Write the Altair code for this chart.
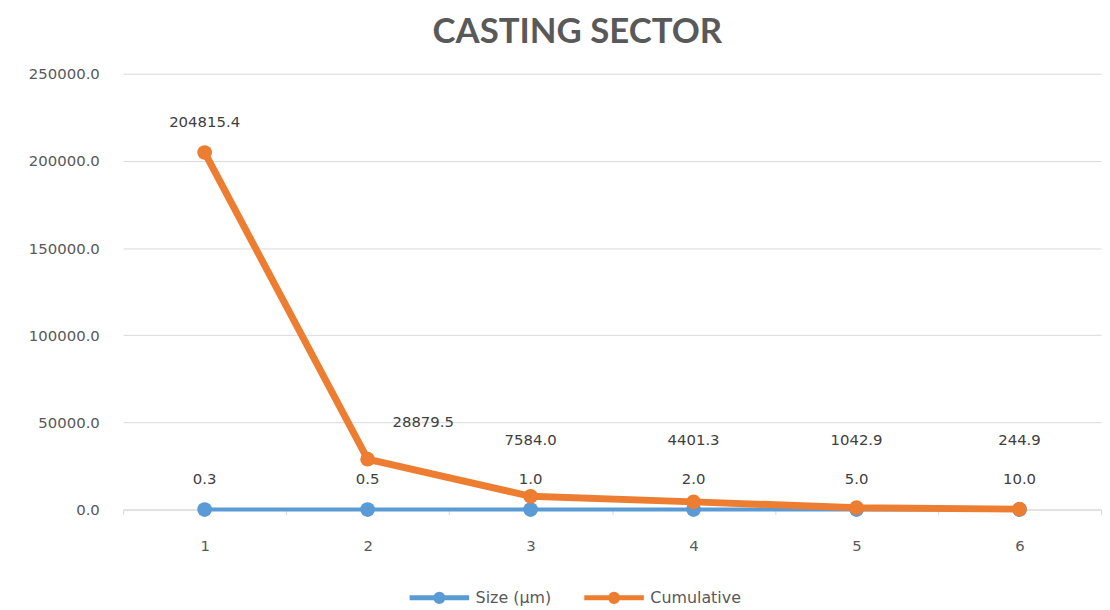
import altair as alt
import pandas as pd

categories = [1, 2, 3, 4, 5, 6]
size_um = [0.3, 0.5, 1.0, 2.0, 5.0, 10.0]
cumulative = [204815.4, 28879.5, 7584.0, 4401.3, 1042.9, 244.9]
series_names = ["Size (µm)", "Cumulative"]
colors = ["#5B9BD5", "#ED7D31"]
y_ticks = [0, 50000, 100000, 150000, 200000, 250000]

rows = []
for c, v in zip(categories, size_um):
    rows.append({"x": str(c), "series": series_names[0], "value": v})
for c, v in zip(categories, cumulative):
    rows.append({"x": str(c), "series": series_names[1], "value": v})
df = pd.DataFrame(rows)

FONT = "DejaVu Sans"
LEGEND_SYMBOL = ("M-2.5,0 L2.5,0 M-0.3,0 A0.3,0.3 0 1,0 0.3,0 "
                 "A0.3,0.3 0 1,0 -0.3,0 Z")

x_enc = alt.X("x:O", sort=[str(c) for c in categories],
              scale=alt.Scale(paddingInner=0, paddingOuter=0),
              axis=alt.Axis(title=None, labelAngle=0, grid=False, tickBand="extent",
                            domainColor="#D9D9D9", tickColor="#D9D9D9", tickSize=5,
                            labelColor="#595959", labelFontSize=15, labelPadding=24,
                            labelFont=FONT))
y_enc = alt.Y("value:Q", scale=alt.Scale(domain=[0, 250000], nice=False),
              axis=alt.Axis(title=None, values=y_ticks, format=".1f", domain=False,
                            ticks=False, gridColor="#D9D9D9", labelColor="#595959",
                            labelFontSize=15, labelPadding=24, labelFont=FONT,
                            minExtent=116, maxExtent=116))
color_enc = alt.Color("series:N", scale=alt.Scale(domain=series_names, range=colors),
                      legend=alt.Legend(title=None, orient="none", direction="horizontal",
                                        legendX=304, legendY=513, symbolType=LEGEND_SYMBOL,
                                        symbolStrokeWidth=5, symbolSize=576,
                                        labelFontSize=16, labelColor="#595959",
                                        labelFont=FONT, columnPadding=22, labelOffset=22))

base = alt.Chart(df).encode(x=x_enc, y=y_enc, color=color_enc)

blue = base.transform_filter(alt.datum.series == series_names[0])
orange = base.transform_filter(alt.datum.series == series_names[1])

blue_line = blue.mark_line(strokeWidth=4, point=alt.OverlayMarkDef(size=220, filled=True, opacity=1))
orange_line = orange.mark_line(strokeWidth=7, point=alt.OverlayMarkDef(size=220, filled=True, opacity=1))

blue_text = blue.mark_text(dy=-31, fontSize=15, font=FONT).encode(
    text=alt.Text("value:Q", format=".1f"), color=alt.value("#404040"))

orange_lab = orange.transform_calculate(label_y="max(datum.value, 22000)")
orange_text = orange_lab.transform_filter(alt.datum.x != "2").mark_text(
    dy=-31, fontSize=15, font=FONT).encode(
    y=alt.Y("label_y:Q"),
    text=alt.Text("value:Q", format=".1f"), color=alt.value("#404040"))
orange_text2 = orange_lab.transform_filter(alt.datum.x == "2").mark_text(
    dy=-37, dx=56, fontSize=15, font=FONT).encode(
    y=alt.Y("label_y:Q"),
    text=alt.Text("value:Q", format=".1f"), color=alt.value("#404040"))

chart = alt.layer(blue_line, orange_line, blue_text, orange_text, orange_text2).properties(
    width=985, height=439,
    padding={"left": 0, "top": 5, "right": 0, "bottom": 0},
    title=alt.TitleParams("CASTING SECTOR", fontSize=35, font="Lato", fontWeight="bold",
                          color="#595959", offset=17, anchor="middle", dx=-35),
).configure_view(stroke=None)

chart.save("out.html", embed_options={"renderer": "svg", "actions": False})
